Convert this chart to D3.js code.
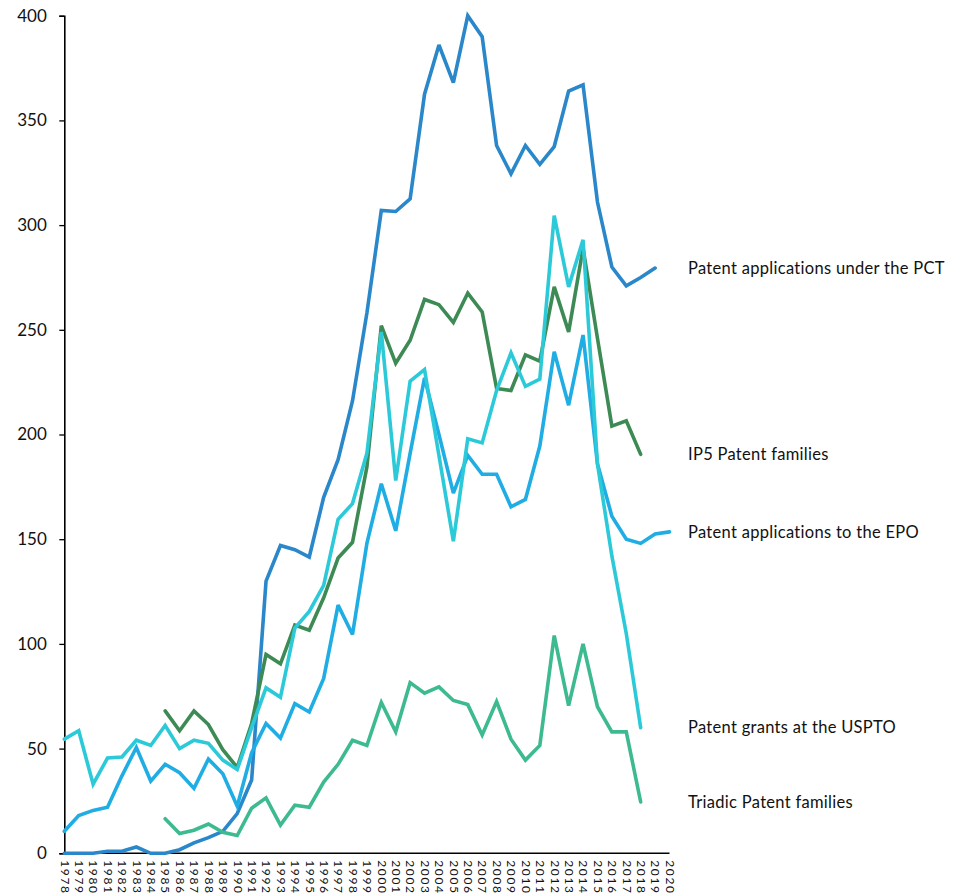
<!DOCTYPE html>
<html>
<head>
<meta charset="utf-8">
<script src="https://cdn.jsdelivr.net/npm/d3@7"></script>
<style>
  html, body { margin: 0; padding: 0; background: #fff; }
  svg { display: block; }
  text { font-family: Lato, "Open Sans", sans-serif; fill: #111; }
</style>
</head>
<body>
<svg id="chart" width="973" height="894"></svg>
<script>
const years = ["1978","1979","1980","1981","1982","1983","1984","1985","1986","1987","1988","1989","1990","1991","1992","1993","1994","1995","1996","1997","1998","1999","2000","2001","2002","2003","2004","2005","2006","2007","2008","2009","2010","2011","2012","2013","2014","2015","2016","2017","2018","2019","2020"];

const pct = [0,0,0,1,1,3,0,0,1.7,5,7.5,10.5,19,35,130,147,145,141.5,170,188,216,258,307,306.5,312.5,362.5,386,368,400,390,338,324.5,338,329,337.5,364,367,311,280,271,275,279.5,null];

const ip5 = [null,null,null,null,null,null,null,68,58.5,68,61.5,49.5,41,62,95,90.5,109,106.5,122,141,148.5,184.5,252,234,245,264.5,262,253.5,267.5,258.5,222,221,238,235,270.5,249,289,246,204,206.5,190.5,null,null];

const epo = [10.5,18,20.5,22,37,50.5,34.5,42.5,38.5,31,45,38,22.5,48,62,55,71.5,67.5,83.5,118.5,104.5,148,176.5,154,191,227,200,172,190,181,181,165.5,169,194.5,239.5,214,247.5,186,161,150,148,152.5,153.5];

const uspto = [54.5,58.5,33,45.5,46,54,51.5,61,50,54,52.5,44.5,40,60,79,74.5,107.5,115.5,128,159.5,167,191,249,178,225.5,231,190,149,198,196,221,239,223,226.5,304.5,270.5,293,186,142,105,60,null,null];

const triadic = [null,null,null,null,null,null,null,16.5,9.5,11,14,10,8.5,21.5,26.5,13.5,23,22,34,42.5,54,51.5,72,58,81.5,76.5,79.5,73,71,56.5,72.5,54.5,44.5,51.5,104,70.5,100,70,58,58,24.5,null,null];

const seriesNames = ["Patent applications under the PCT","IP5 Patent families","Patent applications to the EPO","Patent grants at the USPTO","Triadic Patent families"];
const seriesValues = [pct, ip5, epo, uspto, triadic];
const seriesColors = ["#2A87C9","#3D8A55","#1FADE4","#2CCAD8","#3DBA8F"];
const yTicks = [0,50,100,150,200,250,300,350,400];

(function () {
const svg = d3.select("#chart");
const mLeft = 64.3, mRight = 669.5, mTop = 15.7, mBottom = 853.3;

const x = d3.scalePoint().domain(years).range([mLeft, mRight]);
const y = d3.scaleLinear().domain([0, 400]).range([mBottom, mTop]);

// Y axis
const yAxis = d3.axisLeft(y).tickValues(yTicks).tickSize(5).tickPadding(12.5);
const gy = svg.append("g").attr("transform", `translate(${mLeft},0)`).call(yAxis);
gy.select(".domain").attr("stroke", "#000").attr("stroke-width", 1.6);
gy.selectAll(".tick line").attr("stroke", "#000").attr("stroke-width", 1.3);
gy.selectAll(".tick text").attr("font-size", 17).attr("fill", "#111")
  .style("font-family", "Lato, sans-serif");

// X axis
const xAxis = d3.axisBottom(x).tickSize(0).tickPadding(0);
const gx = svg.append("g").attr("transform", `translate(0,${mBottom})`).call(xAxis);
gx.select(".domain").attr("stroke", "#000").attr("stroke-width", 1.6)
  .attr("d", `M${mLeft},0H${mRight}`);
gx.selectAll(".tick text")
  .attr("font-size", 12)
  .attr("letter-spacing", "1.6px")
  .attr("text-anchor", "start")
  .attr("transform", "translate(0,7) rotate(90)")
  .attr("x", 0).attr("y", 0).attr("dy", "0.35em")
  .attr("fill", "#111")
  .style("font-family", "Lato, sans-serif");

// Lines
const line = d3.line()
  .defined(d => d.v != null)
  .x(d => x(d.year))
  .y(d => y(d.v));

seriesValues.forEach((vals, i) => {
  const data = years.map((yr, j) => ({year: yr, v: vals[j]}));
  svg.append("path")
    .datum(data)
    .attr("fill", "none")
    .attr("stroke", seriesColors[i])
    .attr("stroke-width", 3.6)
    .attr("stroke-linejoin", "miter")
    .attr("stroke-miterlimit", 3)
    .attr("stroke-linecap", "round")
    .attr("d", line);
});

// Right labels at last value
const labelX = 688;
seriesValues.forEach((vals, i) => {
  let last = null;
  vals.forEach(v => { if (v != null) last = v; });
  svg.append("text")
    .attr("x", labelX)
    .attr("y", y(last))
    .attr("dy", "0.35em")
    .attr("font-size", 16.5)
    .attr("letter-spacing", "0.3px")
    .attr("fill", "#111")
    .text(seriesNames[i]);
});
})();
</script>
</body>
</html>
